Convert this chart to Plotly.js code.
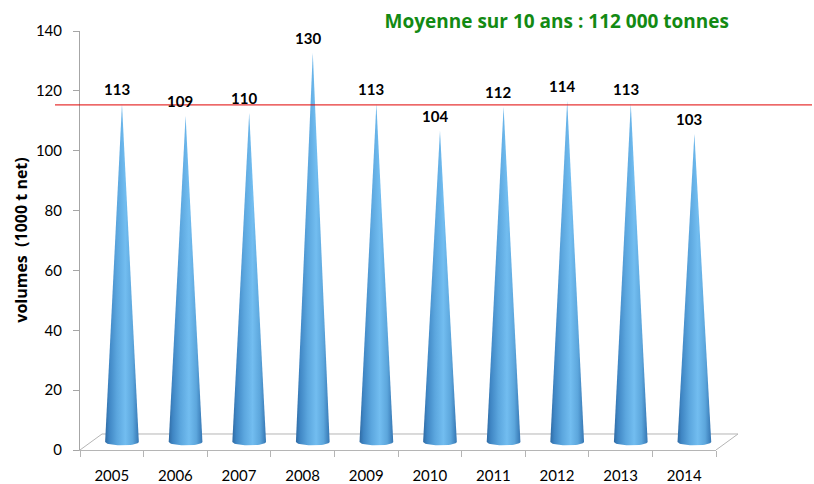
<!DOCTYPE html>
<html>
<head>
<meta charset="utf-8">
<script src="https://cdn.plot.ly/plotly-3.0.1.min.js"></script>
<style>html,body{margin:0;padding:0;background:#fff;}#chart{width:814px;height:484px;}</style>
</head>
<body>
<div id="chart"></div>
<script>
// ---- data ----
const years = ['2005','2006','2007','2008','2009','2010','2011','2012','2013','2014'];
const volumes = [113, 109, 110, 130, 113, 104, 112, 114, 113, 103];
const meanVolume = 112;
const titleText = 'Moyenne sur 10 ans : 112 000 tonnes';
const yTitle = 'volumes  (1000 t net)';
const yTicks = [0, 20, 40, 60, 80, 100, 120, 140];

// ---- 3D-ish styling constants ----
const DX = 0.16;      // depth shift in category units
const DY = 2.7;       // depth shift in value units
const HALF_W = 0.265; // cone base half width (category units)
const ELL_H = 1.15;   // base ellipse half height (value units)

const FONT = 'Lato, "Open Sans", sans-serif';
const coneScale = [
  [0.0, '#2f6aa3'], [0.12, '#3f86c4'], [0.35, '#5ba6de'],
  [0.6, '#72bdf0'], [0.82, '#5ca6dc'], [1.0, '#3576b3']
];

const traces = volumes.map((v, i) => {
  const cx = i + DX, b = DY, t = v + DY;
  const xs = [cx - HALF_W, cx, cx + HALF_W];
  const ys = [b, t, b];
  const n = 24;
  for (let k = 0; k <= n; k++) {
    const th = Math.PI * k / n;
    xs.push(cx + HALF_W * Math.cos(th));
    ys.push(b - ELL_H * Math.sin(th));
  }
  return {
    type: 'scatter', mode: 'lines', x: xs, y: ys,
    fill: 'toself', line: {width: 0, color: 'rgba(0,0,0,0)'},
    fillgradient: {type: 'horizontal', colorscale: coneScale},
    hoverinfo: 'skip', showlegend: false
  };
});

const annotations = volumes.map((v, i) => ({
  x: i + 0.08, y: v + 7.6, xref: 'x', yref: 'y',
  text: String(v), showarrow: false, xanchor: 'center', yanchor: 'middle',
  font: {family: FONT, size: 15, color: '#000', weight: 'bold'}
}));
annotations.push({
  xref: 'paper', yref: 'paper', x: -0.094, y: 0.5, textangle: -90,
  text: yTitle, showarrow: false, xanchor: 'center', yanchor: 'middle',
  font: {family: '"Open Sans", sans-serif', size: 16, color: '#000', weight: 'bold'}
});

const grey = '#b5b5b5';
const shapes = [
  // floor back edge and side diagonals
  {type: 'line', layer: 'below', xref: 'paper', yref: 'y', x0: 22/636, x1: 1 + 22/636, y0: 5.35, y1: 5.35, line: {color: grey, width: 1}},
  {type: 'line', layer: 'below', xref: 'paper', yref: 'y', x0: 0, x1: 22/636, y0: 0, y1: 5.35, line: {color: grey, width: 1}},
  {type: 'line', layer: 'below', xref: 'paper', yref: 'y', x0: 1, x1: 1 + 22/636, y0: 0, y1: 5.35, line: {color: grey, width: 1}},
  // average line
  {type: 'line', xref: 'paper', yref: 'y', x0: -25/636, x1: 732/636, y0: meanVolume + 3.3, y1: meanVolume + 3.3, line: {color: '#e00000', width: 1}}
];

const layout = {
  width: 814, height: 484,
  margin: {l: 80, r: 98, t: 31, b: 34},
  paper_bgcolor: '#fff', plot_bgcolor: 'rgba(0,0,0,0)',
  font: {family: FONT, size: 15, color: '#000'},
  title: {text: titleText, x: 0.684, xanchor: 'center', y: 0.955, yanchor: 'middle', xref: 'container', yref: 'container',
          font: {family: '"Open Sans", sans-serif', size: 19, color: '#138a13', weight: 'bold'}},
  xaxis: {
    range: [-0.5, 9.5], tickvals: years.map((_, i) => i), ticktext: years,
    ticks: '', showgrid: false, zeroline: false, showline: true, linecolor: grey, linewidth: 1,
    ticklabelstandoff: 12, tickfont: {family: FONT, size: 15, color: '#000'},
    minor: {tickmode: 'linear', tick0: -0.5, dtick: 1, ticks: 'outside', ticklen: 6, tickcolor: grey, showgrid: false},
    fixedrange: true
  },
  yaxis: {
    range: [0, 140], tickvals: yTicks, ticks: 'outside', ticklen: 6, tickcolor: '#a6a6a6',
    showgrid: false, zeroline: false, showline: true, linecolor: '#a6a6a6', linewidth: 1,
    ticklabelstandoff: 8, tickfont: {family: FONT, size: 15, color: '#000'},
    fixedrange: true
  },
  shapes: shapes,
  annotations: annotations,
  showlegend: false,
  hovermode: false
};

Plotly.newPlot('chart', traces, layout, {staticPlot: true, displayModeBar: false});
</script>
</body>
</html>
